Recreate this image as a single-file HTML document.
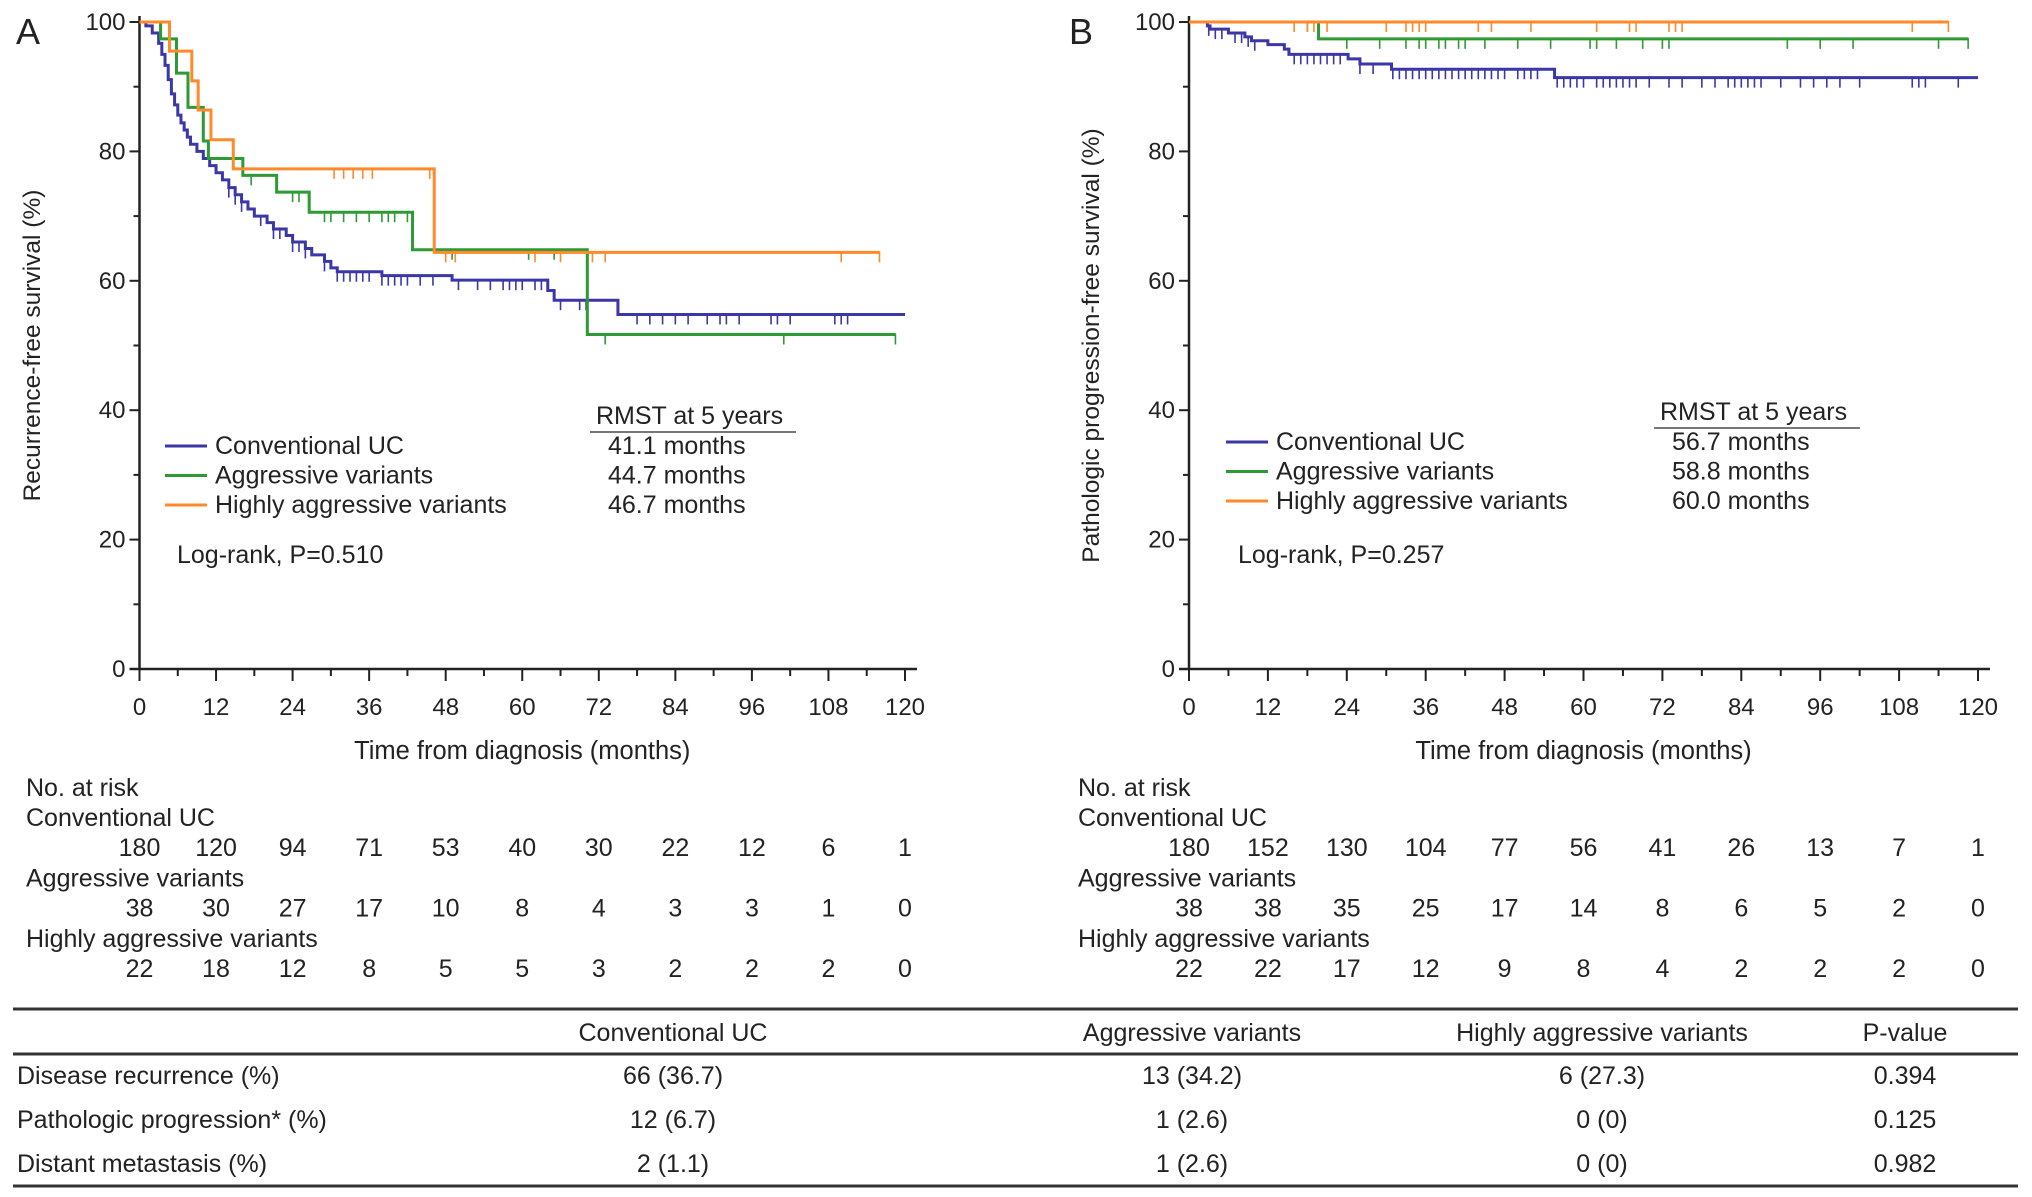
<!DOCTYPE html>
<html><head><meta charset="utf-8"><style>
html,body{margin:0;padding:0;background:#fff;}
svg{display:block;font-family:"Liberation Sans",Arial,sans-serif;}
</style></head><body>
<svg id="fig" width="2032" height="1197" viewBox="0 0 2032 1197"></svg>
<script>
// ---- Panel A data ----
const monthTicks = [0,12,24,36,48,60,72,84,96,108,120];
const survTicks = [0,20,40,60,80,100];
const aBlueT = [0,1,2,3,3.5,4,4.5,5,5.5,6,6.5,7,7.5,8,9,10,11,12,13,14,15,16,17,18,20,21,23,24,26,27,29,30,31,38,49,64,65,75];
const aBlueS = [100,99.4,98.3,96.7,95,93.3,91.1,88.9,87.2,85.6,84.4,83.3,82.2,81.1,80,78.9,77.8,76.7,75.6,74.4,73.3,72.2,71.1,70,69,68,67,66,65,64,63,62,61.4,60.8,60.1,58.5,57,54.8];
const aBlueEnd = 120;
const aBlueCens = [14,15,16,19,21,22,24,25,26,29,31,32,33,34,35,36,38,39,40,41,42,44,46,50,53,55,57,58,59,60,62,63,66,69,70,78,80,82,84,86,89,91,92,94,99,100,102,109,110,111];
const aGreenT = [0,3.3,5.8,7.6,10,10.8,16.2,21.5,26.6,42.8,70.2];
const aGreenS = [100,97.4,92.1,86.8,81.6,78.9,76.3,73.7,70.6,64.8,51.7];
const aGreenEnd = 118.5;
const aGreenCens = [17.5,24,25,29,30,32,34,36,38,39,40,42,49,61,65,73,101,118.5];
const aOrangeT = [0,4.7,8.2,9.2,11.2,14.7,46.2];
const aOrangeS = [100,95.5,90.9,86.4,81.8,77.3,64.4];
const aOrangeEnd = 116;
const aOrangeCens = [30.5,32,33.5,35,36.5,45.5,48,49.5,62,66,71,73,110,116];
// ---- Panel B data ----
const bBlueT = [0,2.8,3.2,6,8.5,9.5,12,14.5,15.2,24.2,26,30.8,55.6];
const bBlueS = [100,99.4,98.9,98.3,97.7,97.1,96.5,95.8,95,94.3,93.5,92.7,91.4];
const bBlueEnd = 120;
const bBlueCens = [3,4,5,7,8,9,10,16,17,18,19,20,21,22,23,26,28,31,32,33,34,35,36,37,38,39,40,41,42,43,44,45,46,47,48,50,51,52,53,56,57,58,59,60,62,63,64,65,66,67,68,70,73,75,78,80,82,83,84,85,86,87,90,93,95,97,99,102,110,111,112,117];
const bGreenT = [0,19.7];
const bGreenS = [100,97.4];
const bGreenEnd = 118.5;
const bGreenCens = [18,24,29,33,35,36,38,39,41,42,45,50,55,61,62,65,69,72,73,91,96,101,114,118.5];
const bOrangeT = [0];
const bOrangeS = [100];
const bOrangeEnd = 115.5;
const bOrangeCens = [16,18,19,21,30,33,34,35,36,44,46,52,62,67,68,73,74,75,110,115.5];
// ---- risk tables ----
const riskGroups = ["Conventional UC","Aggressive variants","Highly aggressive variants"];
const aRiskConv = [180,120,94,71,53,40,30,22,12,6,1];
const aRiskAgg = [38,30,27,17,10,8,4,3,3,1,0];
const aRiskHigh = [22,18,12,8,5,5,3,2,2,2,0];
const bRiskConv = [180,152,130,104,77,56,41,26,13,7,1];
const bRiskAgg = [38,38,35,25,17,14,8,6,5,2,0];
const bRiskHigh = [22,22,17,12,9,8,4,2,2,2,0];

const NS = "http://www.w3.org/2000/svg";
const svg = document.getElementById('fig');
const C = {blue:"#3b37a6", green:"#2e9a33", orange:"#ff8a2b"};
const FS = 25;
function mk(tag, attrs, parent){
  const e = document.createElementNS(NS, tag);
  for (const k in attrs) e.setAttribute(k, attrs[k]);
  (parent||svg).appendChild(e); return e;
}
function txt(x,y,s,size,anchor,parent){
  const t = mk('text',{x:x,y:y,'font-size':size,'text-anchor':anchor||'start',fill:'#222'},parent);
  t.textContent = s; return t;
}

function panel(o){
  const g = mk('g',{});
  
  
  const xs = m => o.x0 + (o.x1 - o.x0) * m / 120;
  const ys = v => o.y0 + (o.y100 - o.y0) * v / 100;
  const ax = mk('g',{},g);
  
  
  mk('line',{x1:o.x0,y1:ys(0),x2:o.x0,y2:o.y100-6,stroke:'#222','stroke-width':2.5},ax);
  mk('line',{x1:o.x0-10,y1:ys(0),x2:xs(120)+12,y2:ys(0),stroke:'#222','stroke-width':2.5},ax);
  for (let v=0; v<=100; v+=10){
    const major = v%20===0;
    mk('line',{x1:o.x0-(major?10:6),y1:ys(v),x2:o.x0,y2:ys(v),stroke:'#222','stroke-width':2},ax);
  }
  survTicks.forEach(v=>{
    const t = txt(o.x0-14, ys(v)+8, String(v), 24, 'end', ax);
    
    
  });
  for (let m=0; m<=120; m+=6){
    const major = m%12===0;
    mk('line',{x1:xs(m),y1:ys(0),x2:xs(m),y2:ys(0)+(major?12:7),stroke:'#222','stroke-width':2},ax);
  }
  monthTicks.forEach(m=>{
    const t = txt(xs(m), ys(0)+46, String(m), 24, 'middle', ax);
    
    
  });
  const xt = txt((o.x0+xs(120))/2, 759, 'Time from diagnosis (months)', 25.5, 'middle', g);
  
  
  const yt = txt(0,0,o.ytitle,24.5,'middle',g);
  yt.setAttribute('transform','translate('+o.ytx+','+((ys(0)+o.y100)/2)+') rotate(-90)');
  
  
  const pl = txt(o.lx, 44, o.label, 36, 'start', g);
  
  
  o.series.forEach(s=>{
    let d = 'M'+xs(s.t[0])+','+ys(s.s[0]);
    for (let i=1;i<s.t.length;i++){
      d += 'H'+xs(s.t[i])+'V'+ys(s.s[i]);
    }
    d += 'H'+xs(s.end);
    const p = mk('path',{d:d,fill:'none',stroke:s.c,'stroke-width':3},g);
    
    
    s.cens.forEach(m=>{
      let v = s.s[0];
      for (let i=0;i<s.t.length;i++) if (s.t[i]<=m) v = s.s[i];
      const tk = mk('line',{x1:xs(m),y1:ys(v)-1,x2:xs(m),y2:ys(v)+10,stroke:s.c,'stroke-width':1.6},g);
      
      
    });
  });
  const lg = mk('g',{},g);
  
  
  o.series.forEach((s,i)=>{
    const y = o.legY + i*29.5;
    mk('line',{x1:o.legX,y1:y,x2:o.legX+42,y2:y,stroke:s.c,'stroke-width':3},lg);
    const t = txt(o.legX+50, y+8, riskGroups[i], FS, 'start', lg);
    
    
    const r = txt(o.rmstX+4, y+8, o.rmst[i], FS, 'start', lg);
    
    
  });
  const rh = txt(o.rmstX-8, o.legY-22, 'RMST at 5 years', FS, 'start', lg);
  
  
  mk('line',{x1:o.rmstX-14,y1:o.legY-14,x2:o.rmstX+192,y2:o.legY-14,stroke:'#777','stroke-width':2},lg);
  const lr = txt(o.legX+12, 563, o.logrank, FS, 'start', g);
  
  
  const rt = mk('g',{},g);
  
  
  txt(o.rtx, 796, 'No. at risk', FS, 'start', rt);
  o.risk.forEach((arr,i)=>{
    const yl = 826 + i*60.5;
    txt(o.rtx, yl, riskGroups[i], FS, 'start', rt);
    arr.forEach((n,k)=>{
      const t = txt(xs(monthTicks[k]), yl+30, String(n), FS, 'middle', rt);
      
      
    });
  });
}

panel({name:'panel-a', x0:139.5, x1:905, y0:669, y100:22, lx:16, ytx:40, label:'A',
  ytitle:'Recurrence-free survival (%)', legX:165, legY:446, rmstX:604,
  rmst:['41.1 months','44.7 months','46.7 months'], logrank:'Log-rank, P=0.510', rtx:26,
  risk:[aRiskConv,aRiskAgg,aRiskHigh],
  series:[
    {nm:'conventional-uc',c:C.blue,t:aBlueT,s:aBlueS,end:aBlueEnd,cens:aBlueCens},
    {nm:'aggressive-variants',c:C.green,t:aGreenT,s:aGreenS,end:aGreenEnd,cens:aGreenCens},
    {nm:'highly-aggressive-variants',c:C.orange,t:aOrangeT,s:aOrangeS,end:aOrangeEnd,cens:aOrangeCens}]});
panel({name:'panel-b', x0:1189, x1:1978, y0:669, y100:22, lx:1069, ytx:1099, label:'B',
  ytitle:'Pathologic progression-free survival (%)', legX:1226, legY:442, rmstX:1668,
  rmst:['56.7 months','58.8 months','60.0 months'], logrank:'Log-rank, P=0.257', rtx:1078,
  risk:[bRiskConv,bRiskAgg,bRiskHigh],
  series:[
    {nm:'conventional-uc',c:C.blue,t:bBlueT,s:bBlueS,end:bBlueEnd,cens:bBlueCens},
    {nm:'aggressive-variants',c:C.green,t:bGreenT,s:bGreenS,end:bGreenEnd,cens:bGreenCens},
    {nm:'highly-aggressive-variants',c:C.orange,t:bOrangeT,s:bOrangeS,end:bOrangeEnd,cens:bOrangeCens}]});
</script>
<svg style="position:absolute;left:0;top:0" width="2032" height="1197">
  <g font-family="Liberation Sans, Arial, sans-serif" font-size="25" fill="#222">
    <line x1="13" y1="1009" x2="2018" y2="1009" stroke="#333" stroke-width="3"/>
    <line x1="13" y1="1054" x2="2018" y2="1054" stroke="#333" stroke-width="3"/>
    <line x1="13" y1="1186" x2="2018" y2="1186" stroke="#333" stroke-width="3"/>
    <text x="673" y="1041" text-anchor="middle">Conventional UC</text>
    <text x="1192" y="1041" text-anchor="middle">Aggressive variants</text>
    <text x="1602" y="1041" text-anchor="middle">Highly aggressive variants</text>
    <text x="1905" y="1041" text-anchor="middle">P-value</text>
    <text x="17" y="1084">Disease recurrence (%)</text>
    <text x="673" y="1084" text-anchor="middle">66 (36.7)</text>
    <text x="1192" y="1084" text-anchor="middle">13 (34.2)</text>
    <text x="1602" y="1084" text-anchor="middle">6 (27.3)</text>
    <text x="1905" y="1084" text-anchor="middle">0.394</text>
    <text x="17" y="1128">Pathologic progression* (%)</text>
    <text x="673" y="1128" text-anchor="middle">12 (6.7)</text>
    <text x="1192" y="1128" text-anchor="middle">1 (2.6)</text>
    <text x="1602" y="1128" text-anchor="middle">0 (0)</text>
    <text x="1905" y="1128" text-anchor="middle">0.125</text>
    <text x="17" y="1172">Distant metastasis (%)</text>
    <text x="673" y="1172" text-anchor="middle">2 (1.1)</text>
    <text x="1192" y="1172" text-anchor="middle">1 (2.6)</text>
    <text x="1602" y="1172" text-anchor="middle">0 (0)</text>
    <text x="1905" y="1172" text-anchor="middle">0.982</text>
  </g>
</svg>
</body></html>
